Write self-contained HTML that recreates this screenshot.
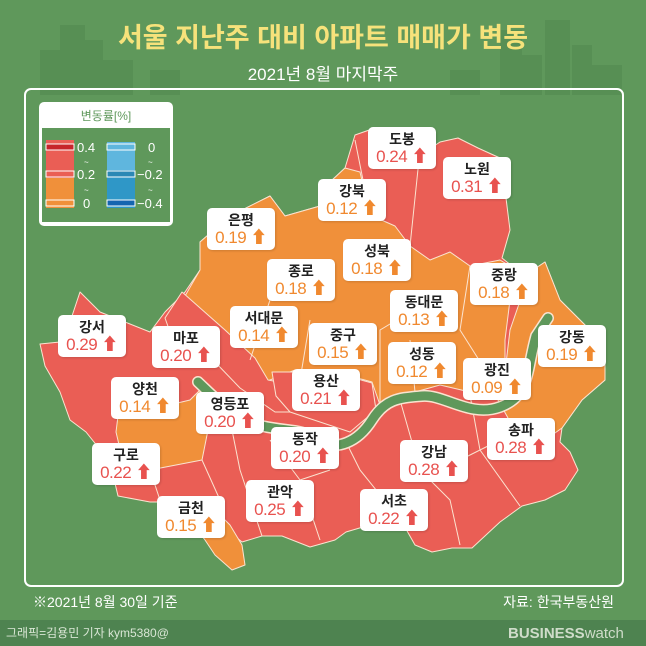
<!DOCTYPE html>
<html><head><meta charset="utf-8"><style>
body{margin:0;width:646px;height:646px;overflow:hidden;background:#5f985b;font-family:"Liberation Sans","Noto Sans CJK KR",sans-serif}
.lb{position:absolute;width:68px;height:42px;background:#fff;border-radius:5px;text-align:center;box-shadow:1px 1px 2px rgba(0,0,0,.15)}
.lb b{display:block;font-size:14px;color:#222;line-height:16px;margin-top:4px;font-weight:bold}
.lb span{display:block;font-size:17px;line-height:20px;letter-spacing:-0.5px}
.r{color:#e8524f}.o{color:#f0892f}
</style></head><body>
<svg width="646" height="646" style="position:absolute;left:0;top:0">
<g fill="#578f54">
<rect x="40" y="50" width="20" height="45"/><rect x="60" y="25" width="25" height="70"/><rect x="85" y="40" width="18" height="55"/><rect x="103" y="60" width="30" height="35"/>
<rect x="500" y="30" width="22" height="65"/><rect x="522" y="55" width="20" height="40"/><rect x="545" y="20" width="25" height="75"/><rect x="572" y="45" width="20" height="50"/><rect x="592" y="65" width="30" height="30"/>
<rect x="150" y="70" width="30" height="25"/><rect x="450" y="70" width="30" height="25"/>
</g>
<text x="323" y="47" text-anchor="middle" font-size="27" font-weight="bold" fill="#f6e27b" font-family="Liberation Sans,Noto Sans CJK KR,sans-serif">서울 지난주 대비 아파트 매매가 변동</text>
<text x="323" y="80" text-anchor="middle" font-size="17" fill="#fff" font-family="Liberation Sans,Noto Sans CJK KR,sans-serif">2021년 8월 마지막주</text>
<rect x="25" y="89" width="598" height="497" rx="6" fill="none" stroke="#fff" stroke-width="2"/>
<g stroke="#fbe3d0" stroke-width="1" stroke-linejoin="round">
<path fill="#ea5e55" d="M355,135 L375,128 L395,145 L412,138 L425,152 L440,142 L458,138 L478,148 L500,158 L505,190 L510,230 L502,258 L512,266 L530,272 L545,262 L560,300 L590,330 L605,336 L605,380 L582,400 L562,428 L560,442 L570,452 L578,470 L565,490 L545,500 L522,506 L500,522 L472,548 L452,548 L432,552 L415,545 L402,522 L380,522 L346,532 L335,540 L310,547 L282,536 L262,536 L242,542 L230,532 L218,520 L190,502 L150,502 L118,496 L110,462 L86,432 L70,420 L60,392 L45,366 L40,344 L60,342 L70,322 L80,292 L100,312 L150,332 L165,312 L185,292 L200,270 L200,242 L230,216 L270,196 L285,216 L320,206 L330,182 L345,168 Z"/>
<path fill="#f0903a" d="M200,242 L230,216 L270,196 L285,216 L320,206 L330,182 L345,168 L360,172 L370,215 L395,226 L410,246 L430,260 L450,252 L470,266 L500,260 L510,266 L510,300 L505,340 L505,372 L498,390 L470,392 L440,385 L415,392 L395,400 L380,405 L372,382 L350,376 L315,386 L300,380 L295,370 L265,382 L250,360 L230,340 L205,320 L185,296 L200,270 Z"/>
<path fill="#ea5e55" d="M182,292 L225,330 L255,358 L268,380 L300,386 L290,412 L275,412 L240,388 L215,362 L200,342 L170,332 L165,318 Z"/>
<path fill="#ea5e55" d="M272,372 L300,372 L316,382 L350,377 L372,383 L376,410 L350,432 L320,422 L290,412 L276,396 Z"/>
<path fill="#f0903a" d="M530,272 L545,262 L560,300 L590,330 L605,336 L605,380 L582,400 L562,428 L545,440 L520,438 L508,418 L498,400 L505,372 L510,330 Z"/>
<path fill="#f0903a" d="M118,416 L130,410 L165,406 L190,400 L200,390 L210,420 L202,460 L150,470 L125,470 L116,432 Z"/>
<path fill="#f0903a" d="M186,502 L210,505 L230,525 L242,545 L245,565 L232,570 L215,555 L205,540 L190,520 Z"/>
<path fill="none" d="M370,215 L355,140 M420,150 L410,246 M250,360 L270,300 M300,380 L310,320 M380,405 L380,330 L430,300 M470,266 L460,330 L498,390 M415,392 L410,340 M150,470 L160,500 M202,460 L220,500 M230,420 L240,470 L262,536 M270,440 L300,480 L330,470 M345,440 L360,470 L402,522 M400,400 L420,470 L450,500 L460,545 M470,395 L480,450 L520,506 M440,470 L500,440 M300,480 L320,540"/>
</g>
<path d="M198,382 C215,398 235,420 262,426 S300,428 318,440 S358,442 372,420 S400,398 422,396 S470,418 500,407 S526,372 536,336 L548,318" fill="none" stroke="#fbe3d0" stroke-width="12" stroke-linecap="round"/>
<path d="M198,382 C215,398 235,420 262,426 S300,428 318,440 S358,442 372,420 S400,398 422,396 S470,418 500,407 S526,372 536,336 L548,318" fill="none" stroke="#5f985b" stroke-width="9" stroke-linecap="round"/>
<rect x="39" y="102" width="134" height="124" rx="5" fill="#fff"/>
<rect x="42" y="128" width="128" height="94" fill="#5f985b"/>
<text x="106" y="120" text-anchor="middle" font-size="12" fill="#5f985b" font-family="Liberation Sans,Noto Sans CJK KR,sans-serif">변동률[%]</text>
<rect x="46" y="140" width="28" height="68" fill="#ea5e55"/>
<rect x="46" y="178" width="28" height="30" fill="#f0903a"/>
<rect x="46" y="144" width="28" height="6" fill="#c7252b" stroke="#fff"/>
<rect x="46" y="171" width="28" height="6" fill="#ea5e55" stroke="#fff"/>
<rect x="46" y="200" width="28" height="6" fill="#f0903a" stroke="#fff"/>
<rect x="107" y="142" width="28" height="66" fill="#2f97c7"/>
<rect x="107" y="142" width="28" height="28" fill="#5fb6de"/>
<rect x="107" y="144" width="28" height="6" fill="#5fb6de" stroke="#fff"/>
<rect x="107" y="171" width="28" height="6" fill="#2b88b5" stroke="#fff"/>
<rect x="107" y="200" width="28" height="6" fill="#1565b0" stroke="#fff"/>
<g fill="#fff" font-size="13" font-family="Liberation Sans,sans-serif">
<text x="77" y="152">0.4</text><text x="77" y="179">0.2</text><text x="83" y="208">0</text>
<text x="148" y="152">0</text><text x="137" y="179">−0.2</text><text x="137" y="208">−0.4</text>
<text x="84" y="165" font-size="8">~</text><text x="84" y="193" font-size="8">~</text><text x="148" y="165" font-size="8">~</text><text x="148" y="193" font-size="8">~</text>
</g>
<text x="33" y="607" font-size="14" fill="#fff" font-family="Liberation Sans,Noto Sans CJK KR,sans-serif">※2021년 8월 30일 기준</text>
<text x="614" y="607" text-anchor="end" font-size="14" fill="#fff" font-family="Liberation Sans,Noto Sans CJK KR,sans-serif">자료: 한국부동산원</text>
<rect x="0" y="620" width="646" height="26" fill="#4e8350"/>
<text x="6" y="637" font-size="12" fill="#d9e6d5" font-family="Liberation Sans,Noto Sans CJK KR,sans-serif">그래픽=김용민 기자 kym5380@</text>
<text x="508" y="638" font-size="15" font-weight="bold" fill="#cfdcca" font-family="Liberation Sans,sans-serif">BUSINESS<tspan font-weight="normal">watch</tspan></text>
</svg>
<div class="lb" style="left:368px;top:127px"><b>도봉</b><span class="r">0.24 ⬆</span></div>
<div class="lb" style="left:443px;top:157px"><b>노원</b><span class="r">0.31 ⬆</span></div>
<div class="lb" style="left:318px;top:179px"><b>강북</b><span class="o">0.12 ⬆</span></div>
<div class="lb" style="left:207px;top:208px"><b>은평</b><span class="o">0.19 ⬆</span></div>
<div class="lb" style="left:343px;top:239px"><b>성북</b><span class="o">0.18 ⬆</span></div>
<div class="lb" style="left:267px;top:259px"><b>종로</b><span class="o">0.18 ⬆</span></div>
<div class="lb" style="left:470px;top:263px"><b>중랑</b><span class="o">0.18 ⬆</span></div>
<div class="lb" style="left:390px;top:290px"><b>동대문</b><span class="o">0.13 ⬆</span></div>
<div class="lb" style="left:230px;top:306px"><b>서대문</b><span class="o">0.14 ⬆</span></div>
<div class="lb" style="left:58px;top:315px"><b>강서</b><span class="r">0.29 ⬆</span></div>
<div class="lb" style="left:152px;top:326px"><b>마포</b><span class="r">0.20 ⬆</span></div>
<div class="lb" style="left:309px;top:323px"><b>중구</b><span class="o">0.15 ⬆</span></div>
<div class="lb" style="left:538px;top:325px"><b>강동</b><span class="o">0.19 ⬆</span></div>
<div class="lb" style="left:388px;top:342px"><b>성동</b><span class="o">0.12 ⬆</span></div>
<div class="lb" style="left:463px;top:358px"><b>광진</b><span class="o">0.09 ⬆</span></div>
<div class="lb" style="left:292px;top:369px"><b>용산</b><span class="r">0.21 ⬆</span></div>
<div class="lb" style="left:111px;top:377px"><b>양천</b><span class="o">0.14 ⬆</span></div>
<div class="lb" style="left:196px;top:392px"><b>영등포</b><span class="r">0.20 ⬆</span></div>
<div class="lb" style="left:271px;top:427px"><b>동작</b><span class="r">0.20 ⬆</span></div>
<div class="lb" style="left:487px;top:418px"><b>송파</b><span class="r">0.28 ⬆</span></div>
<div class="lb" style="left:400px;top:440px"><b>강남</b><span class="r">0.28 ⬆</span></div>
<div class="lb" style="left:92px;top:443px"><b>구로</b><span class="r">0.22 ⬆</span></div>
<div class="lb" style="left:246px;top:480px"><b>관악</b><span class="r">0.25 ⬆</span></div>
<div class="lb" style="left:360px;top:489px"><b>서초</b><span class="r">0.22 ⬆</span></div>
<div class="lb" style="left:157px;top:496px"><b>금천</b><span class="o">0.15 ⬆</span></div>
</body></html>
